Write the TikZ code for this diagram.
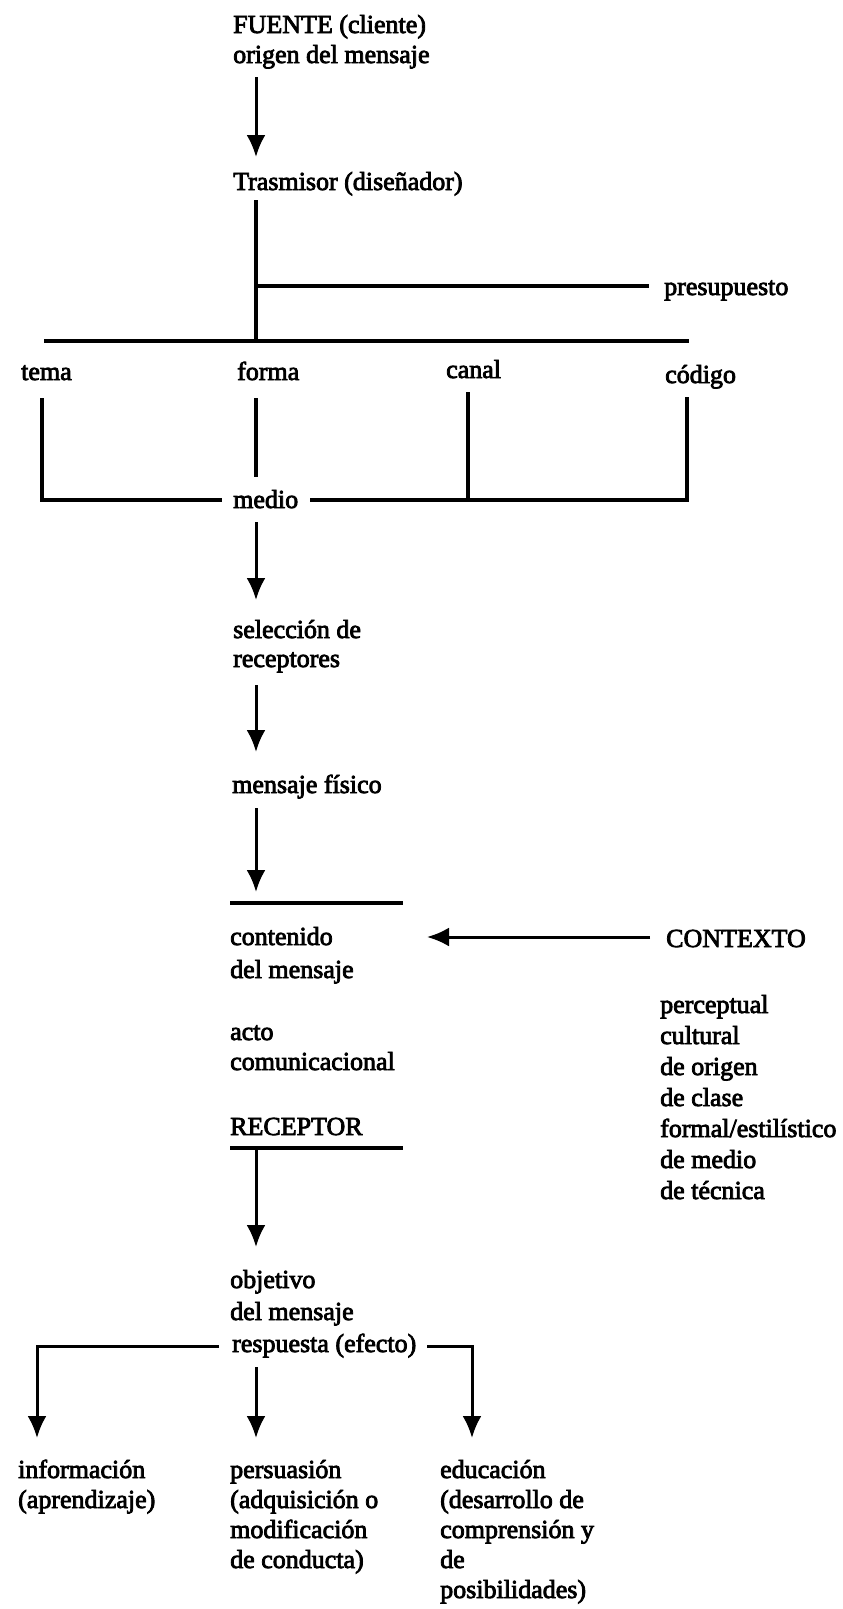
\documentclass[tikz,border=0pt]{standalone}
\usepackage{fontspec}
\setmainfont{Liberation Serif}
\newfontfamily\heavyserif{Liberation Serif}[FakeBold=3]
\usetikzlibrary{arrows.meta}
\newcommand\ml[1]{\begin{tabular}[t]{@{}l@{}}#1\end{tabular}}
\tikzset{
  txt/.style={anchor=base west, inner sep=0pt, font=\heavyserif\fontsize{26}{31}\selectfont},
  ln/.style={line width=3.6pt},
  arr/.style={line width=3pt, -{Latex[length=22pt,width=19pt]}},
}
\begin{document}
\begin{tikzpicture}[x=1pt,y=-1pt]
\path[use as bounding box, fill=white] (0,0) rectangle (843,1609);

% texts
\node[txt] (fuente) at (233,33) {\ml{FUENTE (cliente)\\[-1pt] origen del mensaje}};
\node[txt] (tras) at (233,190) {Trasmisor (diseñador)};
\node[txt] (presup) at (664,295) {presupuesto};
\node[txt] (tema) at (21,380) {tema};
\node[txt] (forma) at (237,380) {forma};
\node[txt] (canal) at (446,378) {canal};
\node[txt] (codigo) at (665,383) {código};
\node[txt] (medio) at (233,508) {medio};
\node[txt] (selec) at (233,638) {\ml{selección de\\[-2pt] receptores}};
\node[txt] (msgf) at (232,793) {mensaje físico};
\node[txt] (conten) at (230,945) {\ml{contenido\\[2pt] del mensaje}};
\node[txt] (contexto) at (666,947) {CONTEXTO};
\node[txt] (lista) at (660,1013) {\ml{perceptual\\ cultural\\ de origen\\ de clase\\ formal/estilístico\\ de medio\\ de técnica}};
\node[txt] (acto) at (230,1040) {\ml{acto\\[-1pt] comunicacional}};
\node[txt] (receptor) at (230,1135) {RECEPTOR};
\node[txt] (objetivo) at (230,1288) {\ml{objetivo\\[1pt] del mensaje}};
\node[txt] (resp) at (232,1352) {respuesta (efecto)};
\node[txt] (info) at (18,1478) {\ml{información\\[-1pt] (aprendizaje)}};
\node[txt] (pers) at (230,1478) {\ml{persuasión\\[-1pt] (adquisición o\\[-1pt] modificación\\[-1pt] de conducta)}};
\node[txt] (educ) at (440,1478) {\ml{educación\\[-1pt] (desarrollo de\\[-1pt] comprensión y\\[-1pt] de\\[-1pt] posibilidades)}};

% coordinates
\coordinate (a1s) at (256,77);   \coordinate (a1e) at (256,157);
\coordinate (sp0) at (256,200);  \coordinate (sp1) at (256,341);
\coordinate (pr0) at (256,286);  \coordinate (pr1) at (649,286);
\coordinate (bar0) at (44,341);  \coordinate (bar1) at (689,341);
\coordinate (te0) at (42,398);   \coordinate (te1) at (42,500);  \coordinate (te2) at (222,500);
\coordinate (fo0) at (256,398);  \coordinate (fo1) at (256,477);
\coordinate (ca0) at (468,392);  \coordinate (ca1) at (468,500);
\coordinate (co0) at (687,397);  \coordinate (co1) at (687,500); \coordinate (co2) at (310,500);
\coordinate (a2s) at (256,522);  \coordinate (a2e) at (256,600);
\coordinate (a3s) at (256,685);  \coordinate (a3e) at (256,752);
\coordinate (a4s) at (256,808);  \coordinate (a4e) at (256,892);
\coordinate (h1a) at (230,903);  \coordinate (h1b) at (403,903);
\coordinate (cxs) at (650,937);  \coordinate (cxe) at (427,937);
\coordinate (h2a) at (230,1148); \coordinate (h2b) at (403,1148);
\coordinate (a5s) at (256,1148); \coordinate (a5e) at (256,1247);
\coordinate (l0) at (219,1346);  \coordinate (l1) at (37,1346);  \coordinate (l2) at (37,1438);
\coordinate (m0) at (256,1367);  \coordinate (m1) at (256,1438);
\coordinate (r0) at (427,1346);  \coordinate (r1) at (472,1346); \coordinate (r2) at (472,1438);

% connectors
\draw[arr] (a1s) -- (a1e);
\draw[ln] (sp0) -- (sp1);
\draw[ln] (pr0) -- (pr1);
\draw[ln] (bar0) -- (bar1);
\draw[ln] (te0) -- (te1) -- (te2);
\draw[ln] (fo0) -- (fo1);
\draw[ln] (ca0) -- (ca1);
\draw[ln] (co0) -- (co1) -- (co2);
\draw[arr] (a2s) -- (a2e);
\draw[arr] (a3s) -- (a3e);
\draw[arr] (a4s) -- (a4e);
\draw[ln] (h1a) -- (h1b);
\draw[arr] (cxs) -- (cxe);
\draw[ln] (h2a) -- (h2b);
\draw[arr] (a5s) -- (a5e);
\draw[arr] (l0) -- (l1) -- (l2);
\draw[arr] (m0) -- (m1);
\draw[arr] (r0) -- (r1) -- (r2);
\end{tikzpicture}
\end{document}
